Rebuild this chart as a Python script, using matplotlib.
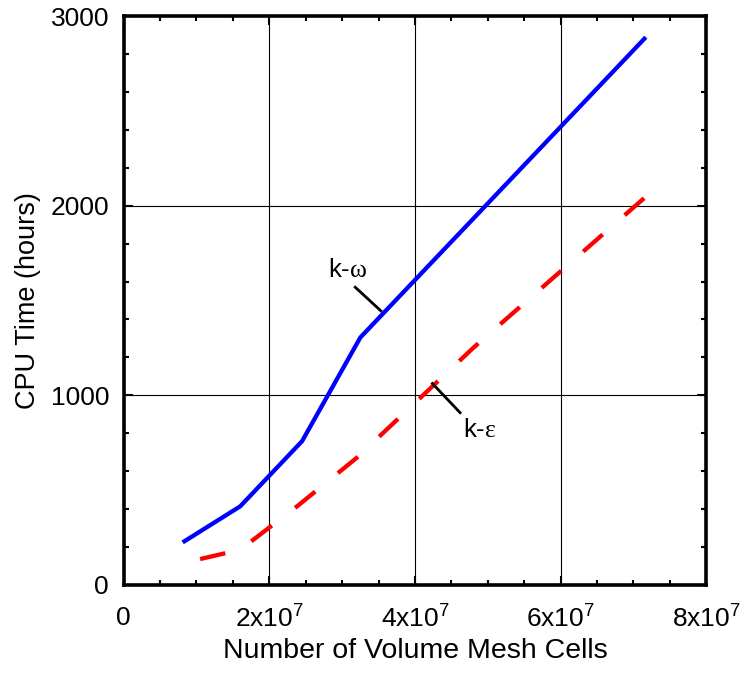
import matplotlib.pyplot as plt
from matplotlib.ticker import MultipleLocator, FixedLocator, FixedFormatter

plt.rcParams['font.family'] = ['Liberation Sans', 'DejaVu Sans']
plt.rcParams['mathtext.fontset'] = 'custom'
plt.rcParams['mathtext.rm'] = 'Liberation Sans'
plt.rcParams['mathtext.sf'] = 'Liberation Serif'
plt.rcParams['mathtext.default'] = 'regular'

# k-omega run (solid blue)
komega_cells = [0.81e7, 1.6e7, 2.45e7, 3.25e7, 7.17e7]
komega_hours = [224, 414, 758, 1305, 2889]

# k-epsilon run (dashed red)
keps_cells = [1.05e7, 1.6e7, 2.4e7, 3.2e7, 4.8e7, 7.18e7]
keps_hours = [136, 185, 420, 670, 1250, 2051]

xticks = [0, 2e7, 4e7, 6e7, 8e7]
xtick_labels = ['0', '2x10$^{7}$', '4x10$^{7}$', '6x10$^{7}$', '8x10$^{7}$']
yticks = [0, 1000, 2000, 3000]

fig = plt.figure(figsize=(7.45, 6.73), dpi=100)
ax = fig.add_axes([0.166, 0.131, 0.782, 0.845])

ax.plot(komega_cells, komega_hours, color='blue', lw=3.1, solid_capstyle='butt')
line, = ax.plot(keps_cells, keps_hours, color='red', lw=3.1, dash_capstyle='butt')
line.set_dashes((6.0, 6.8))

# leader lines and curve labels
ax.plot([3.18e7, 3.53e7], [1570, 1446], color='black', lw=2.0)
ax.text(3.07e7, 1660, r'k-$\mathsf{\omega}$', fontsize=18.5, ha='center', va='center')
ax.plot([4.24e7, 4.62e7], [1062, 908], color='black', lw=2.0)
ax.text(4.89e7, 815, r'k-$\mathsf{\varepsilon}$', fontsize=18.5, ha='center', va='center')

ax.set_xlim(0, 8e7)
ax.set_ylim(0, 3000)
ax.xaxis.set_major_locator(FixedLocator(xticks))
ax.xaxis.set_major_formatter(FixedFormatter(xtick_labels))
ax.xaxis.set_minor_locator(MultipleLocator(5e6))
ax.yaxis.set_major_locator(FixedLocator(yticks))
ax.yaxis.set_minor_locator(MultipleLocator(200))

ax.grid(True, which='major', color='black', lw=0.8)
ax.tick_params(which='both', direction='in', top=True, right=True, width=1.5, labelsize=19)
ax.tick_params(which='major', length=6.5)
ax.tick_params(which='minor', length=3.8)
ax.tick_params(axis='x', pad=15)
ax.tick_params(axis='y', pad=10.5)
for sp in ax.spines.values():
    sp.set_linewidth(2.6)

ax.set_xlabel('Number of Volume Mesh Cells', fontsize=20.5, labelpad=4)
ax.set_ylabel('CPU Time (hours)', fontsize=19.5, labelpad=7)

fig.savefig('out.png', dpi=100)
